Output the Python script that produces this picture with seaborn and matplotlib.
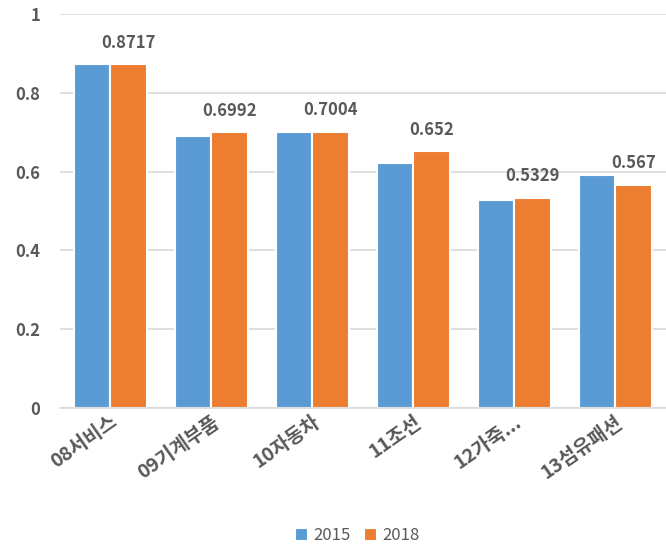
import pandas as pd
import matplotlib
matplotlib.use("Agg")
import matplotlib.pyplot as plt
import seaborn as sns

# data
categories = ['08서비스', '09기계부품', '10자동차', '11조선', '12가죽...', '13섬유패션']
years = ['2015', '2018']
vals_2015 = [0.8726, 0.690, 0.701, 0.621, 0.528, 0.590]
vals_2018 = [0.8717, 0.6992, 0.7004, 0.652, 0.5329, 0.567]
labels_2018 = ['0.8717', '0.6992', '0.7004', '0.652', '0.5329', '0.567']

colors = ['#5B9BD5', '#ED7D31']
text_gray = '#595959'

df = pd.DataFrame({
    'category': categories * 2,
    'year': [years[0]] * len(categories) + [years[1]] * len(categories),
    'value': vals_2015 + vals_2018,
})

sns.set_style("white")
plt.rcParams['font.family'] = ['Noto Sans CJK KR', 'DejaVu Sans']

fig = plt.figure(figsize=(6.66, 5.48), dpi=100)
ax = fig.add_axes([0.09, 0.255, 0.91, 0.72])

sns.barplot(data=df, x='category', y='value', hue='year', palette=colors,
            saturation=1, width=0.72, edgecolor='white', linewidth=1.5, ax=ax)

ax.set_ylim(0, 1)
ax.set_yticks([0, 0.2, 0.4, 0.6, 0.8, 1.0])
ax.set_yticklabels(['0', '0.2', '0.4', '0.6', '0.8', '1'])
ax.yaxis.grid(True, color='#D9D9D9', linewidth=1.2)
ax.set_axisbelow(True)
for s in ['left', 'right', 'top']:
    ax.spines[s].set_visible(False)
ax.spines['bottom'].set_color('#D9D9D9')
ax.spines['bottom'].set_linewidth(1.2)

ax.set_xlabel('')
ax.set_ylabel('')
ax.tick_params(axis='both', length=0, colors=text_gray, labelsize=12)
ax.tick_params(axis='y', pad=14)
ax.tick_params(axis='x', pad=3)
for lbl in ax.get_yticklabels():
    lbl.set_fontweight('bold')
for lbl in ax.get_xticklabels():
    lbl.set_rotation(35)
    lbl.set_ha('right')
    lbl.set_rotation_mode('anchor')
    lbl.set_fontweight('bold')
    lbl.set_fontsize(14)

ax.bar_label(ax.containers[1], labels=labels_2018, padding=9,
             color=text_gray, fontsize=12, fontweight='bold')

ax.legend(loc='lower center', bbox_to_anchor=(0.49, -0.383), ncol=2,
          frameon=False, handlelength=0.8, handleheight=0.8,
          handletextpad=0.3, columnspacing=0.8, fontsize=12,
          labelcolor=text_gray)

plt.savefig('out.png', dpi=100)
